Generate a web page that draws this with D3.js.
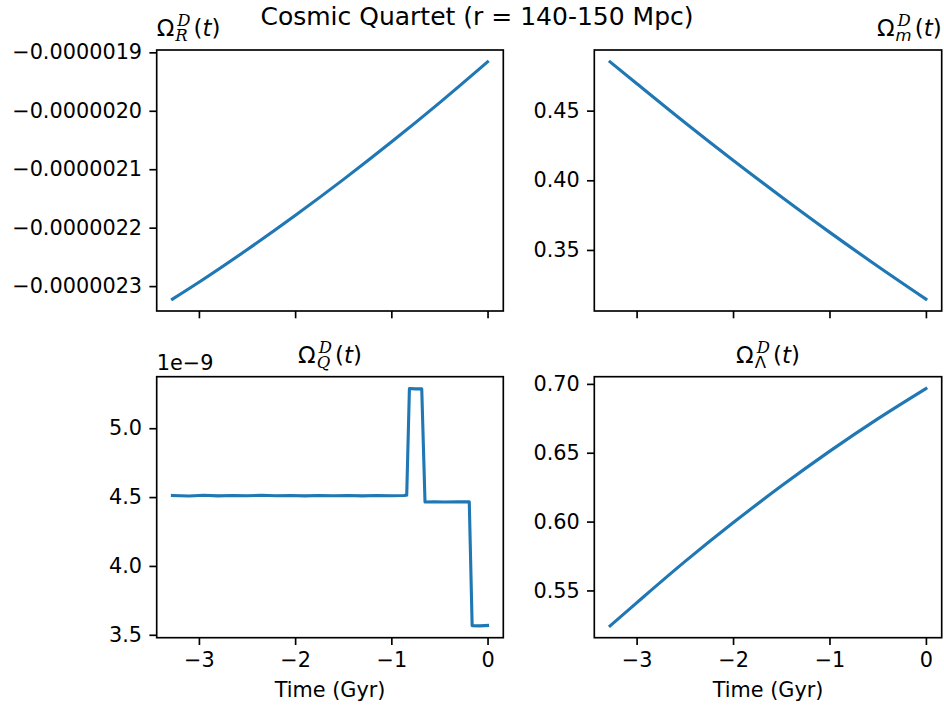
<!DOCTYPE html>
<html>
<head>
<meta charset="utf-8">
<script src="https://cdn.jsdelivr.net/npm/d3@7"></script>
<style>
  body { margin: 0; background: #fff; }
  text { font-family: "DejaVu Sans", sans-serif; fill: #000; }
</style>
</head>
<body>
<svg id="chart"></svg>
<script>
const width = 944, height = 706;

// data
const time = [-3.275, -3.0, -2.5, -2.0, -1.5, -1.0, -0.5, 0];
const omegaR = [-2.3223e-6, -2.2934e-6, -2.2378e-6, -2.1792e-6, -2.1178e-6, -2.0535e-6, -1.9864e-6, -1.9163e-6];
const omegaM = [0.4850, 0.4695, 0.4415, 0.4144, 0.3882, 0.3628, 0.3383, 0.3147];
const omegaL = [0.5243, 0.5410, 0.5709, 0.5991, 0.6258, 0.6510, 0.6746, 0.6966];
const qTime = [-3.275, -3.1, -2.95, -2.8, -2.65, -2.5, -2.35, -2.2, -2.05, -1.9, -1.75, -1.6, -1.45, -1.3, -1.15, -1.0, -0.87, -0.84,
  -0.812, -0.75, -0.684, -0.65, -0.55, -0.45, -0.3, -0.19, -0.16, -0.08, 0];
const omegaQ = [4.512e-9, 4.508e-9, 4.513e-9, 4.509e-9, 4.512e-9, 4.510e-9, 4.513e-9, 4.510e-9, 4.511e-9, 4.509e-9, 4.512e-9, 4.510e-9,
  4.511e-9, 4.509e-9, 4.511e-9, 4.510e-9, 4.512e-9, 4.514e-9, 5.288e-9, 5.286e-9, 5.287e-9, 4.464e-9, 4.466e-9, 4.464e-9, 4.465e-9,
  4.465e-9, 3.566e-9, 3.565e-9, 3.568e-9];

const xTicks = [-3, -2, -1, 0];
const rTicks = [-2.3e-6, -2.2e-6, -2.1e-6, -2.0e-6, -1.9e-6];
const mTicks = [0.35, 0.40, 0.45];
const qTicks = [3.5e-9, 4.0e-9, 4.5e-9, 5.0e-9];
const lTicks = [0.55, 0.60, 0.65, 0.70];

const fs = 20.8, titleFs = 23, scriptFs = 16.5, tickLen = 7.3, lw = 1.67;
const cols = [[156.7, 503.3], [594.3, 941.7]];
const rows = [[50, 311], [376.7, 637.7]];

const svg = d3.select("#chart").attr("width", width).attr("height", height);

svg.append("text")
    .attr("x", 477).attr("y", 25)
    .attr("text-anchor", "middle")
    .style("font-size", "25px")
    .text("Cosmic Quartet (r = 140-150 Mpc)");

function padded(ext) {
    const p = (ext[1] - ext[0]) * 0.05;
    return [ext[0] - p, ext[1] + p];
}

// script letters drawn as italic serif capitals
const panels = [
    { col: 0, row: 0, xs: time, ys: omegaR, ticks: rTicks, fmt: d3.format(".7f"), sub: "R", subFont: "serif", align: "start" },
    { col: 1, row: 0, xs: time, ys: omegaM, ticks: mTicks, fmt: d3.format(".2f"), sub: "m", subFont: "sans", align: "end" },
    { col: 0, row: 1, xs: qTime, ys: omegaQ, ticks: qTicks, fmt: d => d3.format(".1f")(d / 1e-9), sub: "Q", subFont: "serif", align: "middle", offset: "1e−9" },
    { col: 1, row: 1, xs: time, ys: omegaL, ticks: lTicks, fmt: d3.format(".2f"), sub: "Λ", subFont: "upright", align: "middle" }
];

function styleScript(sel, kind) {
    if (kind === "serif") sel.style("font-family", "'DejaVu Serif', serif").style("font-style", "italic");
    else if (kind === "sans") sel.style("font-style", "italic");
    return sel;
}

function mathTitle(x, y, anchor, p) {
    const t = svg.append("g");
    const om = t.append("text").attr("x", 0).attr("y", 0).style("font-size", titleFs + "px").text("Ω");
    let cx = om.node().getComputedTextLength() + 1;
    const sup = styleScript(t.append("text"), "serif")
        .attr("x", cx + 2).attr("y", -10.5).style("font-size", scriptFs + "px").text("D");
    const sub = styleScript(t.append("text"), p.subFont)
        .attr("x", cx).attr("y", 5).style("font-size", scriptFs + "px").text(p.sub);
    cx += Math.max(sup.node().getComputedTextLength() + 2, sub.node().getComputedTextLength()) + 3;
    const rest = t.append("text").attr("x", cx).attr("y", 0).style("font-size", titleFs + "px");
    rest.append("tspan").text("(");
    rest.append("tspan").style("font-style", "italic").text("t");
    rest.append("tspan").text(")");
    const total = cx + rest.node().getComputedTextLength();
    const shift = anchor === "start" ? 0 : anchor === "end" ? total : total / 2;
    t.attr("transform", `translate(${x - shift},${y})`);
}

panels.forEach(p => {
    const [x0, x1] = cols[p.col];
    const [y0, y1] = rows[p.row];
    const x = d3.scaleLinear().domain(padded(d3.extent(p.xs))).range([x0, x1]);
    const y = d3.scaleLinear().domain(padded(d3.extent(p.ys))).range([y1, y0]);
    const g = svg.append("g");

    const line = d3.line()
        .x((d, i) => x(p.xs[i]))
        .y(d => y(d));
    if (p.xs === time) line.curve(d3.curveMonotoneX);
    g.append("path")
        .datum(p.ys)
        .attr("d", line)
        .attr("fill", "none")
        .attr("stroke", "#1f77b4")
        .attr("stroke-width", 3.1)
        .attr("stroke-linejoin", "round")
        .attr("stroke-linecap", "square");

    const ax = g.append("g")
        .attr("transform", `translate(0,${y1})`)
        .call(d3.axisBottom(x).tickValues(xTicks).tickSize(tickLen).tickPadding(7.3)
            .tickFormat(p.row === 1 ? d3.format("") : () => ""));
    const ay = g.append("g")
        .attr("transform", `translate(${x0},0)`)
        .call(d3.axisLeft(y).tickValues(p.ticks).tickSize(tickLen).tickPadding(7.3).tickFormat(p.fmt));
    [ax, ay].forEach(a => {
        a.select(".domain").remove();
        a.selectAll(".tick line").attr("stroke", "#000").attr("stroke-width", lw);
        a.selectAll(".tick text").style("font-size", fs + "px").style("font-family", "DejaVu Sans").attr("fill", "#000");
    });
    ax.selectAll(".tick text").attr("dy", "0.71em");

    g.append("rect")
        .attr("x", x0).attr("y", y0)
        .attr("width", x1 - x0).attr("height", y1 - y0)
        .attr("fill", "none").attr("stroke", "#000").attr("stroke-width", lw);

    if (p.row === 1) {
        g.append("text")
            .attr("x", (x0 + x1) / 2).attr("y", 696.5)
            .attr("text-anchor", "middle")
            .style("font-size", fs + "px")
            .text("Time (Gyr)");
    }
    if (p.offset) {
        g.append("text")
            .attr("x", x0).attr("y", 370)
            .style("font-size", fs + "px")
            .text(p.offset);
    }

    const tx = p.align === "start" ? x0 : p.align === "end" ? x1 : (x0 + x1) / 2;
    mathTitle(tx, p.row === 0 ? 36 : 363, p.align, p);
});
</script>
</body>
</html>
